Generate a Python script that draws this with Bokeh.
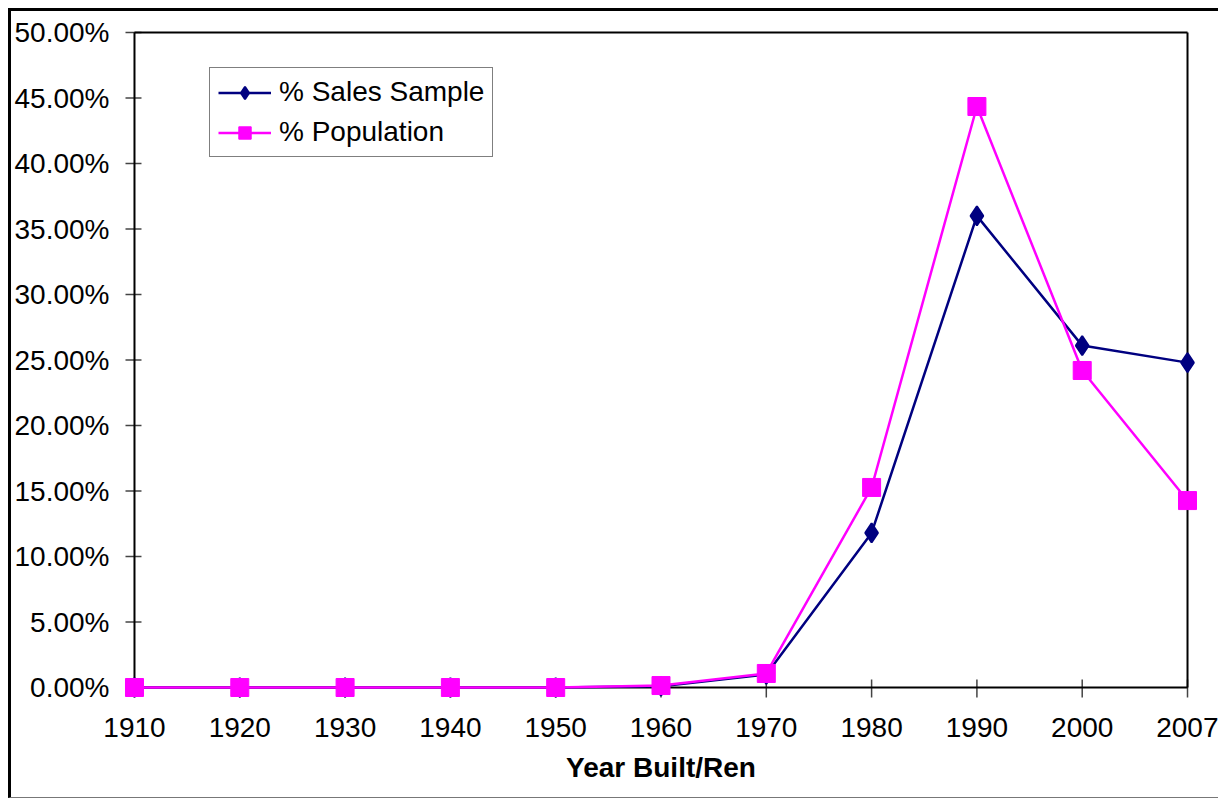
from bokeh.plotting import figure
from bokeh.models import Range1d, FixedTicker, NumeralTickFormatter, Legend, LegendItem
from bokeh.embed import file_html
from bokeh.resources import INLINE

years = ["1910", "1920", "1930", "1940", "1950", "1960", "1970", "1980", "1990", "2000", "2007"]
sales_sample = [0.0, 0.0, 0.0, 0.0, 0.0, 0.001, 0.010, 0.118, 0.360, 0.261, 0.248]
population = [0.0, 0.0, 0.0, 0.0, 0.0, 0.0015, 0.0107, 0.1527, 0.4435, 0.2420, 0.1427]
y_ticks = [0.0, 0.05, 0.10, 0.15, 0.20, 0.25, 0.30, 0.35, 0.40, 0.45, 0.50]

x = list(range(len(years)))
FONT = "Liberation Sans"

# plot box (px) plus padding so edge markers are not clipped by the frame
W, H = 1210, 790
BL, BT, BR, BB = 122, 21, 34, 114
PAD = 14
inner_w = W - BL - BR
inner_h = H - BT - BB
x0, x1 = 0, len(years) - 1
y0, y1 = 0.0, 0.5
xpp = (x1 - x0) / inner_w   # data units per px
ypp = (y1 - y0) / inner_h

p = figure(width=W, height=H, output_backend="svg", toolbar_location=None,
           x_range=Range1d(x0 - PAD * xpp, x1 + PAD * xpp),
           y_range=Range1d(y0 - PAD * ypp, y1 + PAD * ypp),
           min_border_left=BL - PAD, min_border_top=BT - PAD,
           min_border_right=BR - PAD, min_border_bottom=BB - PAD)
p.styles = {"margin-left": "8px", "margin-top": "8px",
            "border-left": "3px solid black", "border-top": "3px solid black",
            "border-bottom": "1px solid #777777"}

p.xgrid.visible = False
p.ygrid.visible = False
p.outline_line_color = None
p.background_fill_color = "white"
p.border_fill_color = "white"

p.xaxis.ticker = FixedTicker(ticks=x)
p.xaxis.major_label_overrides = {i: y for i, y in enumerate(years)}
p.yaxis.ticker = FixedTicker(ticks=y_ticks)
p.yaxis.formatter = NumeralTickFormatter(format="0.00%")

for ax in (p.xaxis, p.yaxis):
    ax.axis_line_color = None
    ax.major_tick_line_color = None
    ax.major_tick_in = 0
    ax.major_tick_out = 0
    ax.minor_tick_line_color = None
    ax.major_label_text_font = FONT
    ax.major_label_text_color = "black"
    ax.major_label_text_font_size = "28px"

p.yaxis.major_label_standoff = 11
p.xaxis.major_label_standoff = 16

p.xaxis.axis_label = "Year Built/Ren"
p.xaxis.axis_label_text_font = FONT
p.xaxis.axis_label_text_font_style = "bold"
p.xaxis.axis_label_text_font_size = "28px"
p.xaxis.axis_label_text_color = "black"
p.xaxis.axis_label_standoff = 12

# tick marks (crossing the axis lines)
p.segment(x0=[x0 - 9 * xpp] * len(y_ticks), y0=y_ticks,
          x1=[x0 + 7 * xpp] * len(y_ticks), y1=y_ticks,
          line_color="#444444", line_width=1.5)
p.segment(x0=x, y0=[y0 - 10 * ypp] * len(x), x1=x, y1=[y0 + 8 * ypp] * len(x),
          line_color="#444444", line_width=1.5)
# plot box: left, bottom, top, right
p.segment(x0=[x0, x0, x0, x1], y0=[y0, y0, y1, y0],
          x1=[x0, x1, x1, x1], y1=[y1, y0, y1, y1],
          line_color="black", line_width=2)

NAVY, MAGENTA = "#000080", "#FF00FF"
l1 = p.line(x, sales_sample, line_color=NAVY, line_width=2.5)
m1 = p.scatter(x, sales_sample, marker="diamond", size=19, line_width=2,
               fill_color=NAVY, line_color=NAVY)
l2 = p.line(x, population, line_color=MAGENTA, line_width=2.5)
m2 = p.scatter(x, population, marker="square", size=18, fill_color=MAGENTA, line_color=MAGENTA)

legend = Legend(items=[LegendItem(label="% Sales Sample", renderers=[l1, m1]),
                       LegendItem(label="% Population", renderers=[l2, m2])],
                location=(75 + PAD, 530 + PAD))
legend.label_text_font = FONT
legend.label_text_font_size = "28px"
legend.label_text_color = "black"
legend.glyph_width = 53
legend.glyph_height = 31
legend.label_height = 31
legend.label_standoff = 8
legend.spacing = 8
legend.padding = 8
legend.margin = 0
legend.border_line_color = "black"
legend.border_line_width = 1
legend.background_fill_alpha = 1
p.add_layout(legend, "center")

open("out.html", "w").write(file_html(p, INLINE))
